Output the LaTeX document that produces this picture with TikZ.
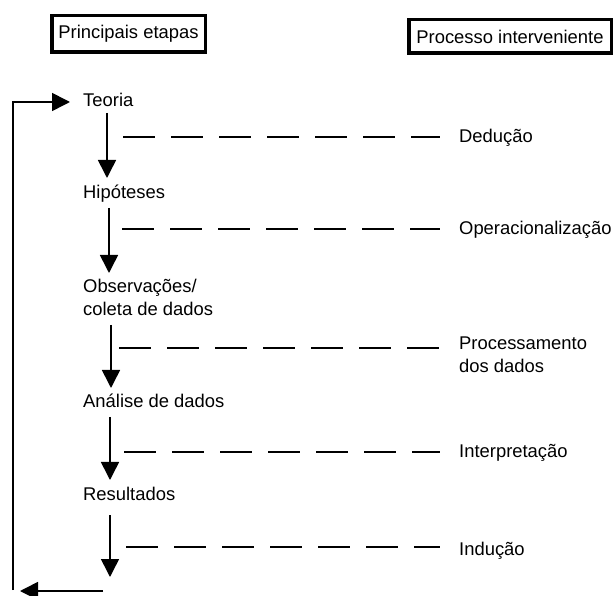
\documentclass[tikz,border=0pt]{standalone}
\usepackage{fontspec}
\setmainfont{Liberation Sans}
\usetikzlibrary{arrows.meta,calc}

\begin{document}
\begin{tikzpicture}[x=1pt,y=-1pt,
  txt/.style={font=\fontsize{18.4}{23}\selectfont},
  lbl/.style={txt, anchor=base west, inner sep=0pt, align=left},
  hdr/.style={txt, draw, line width=3.5pt, inner sep=0pt},
  shaft/.style={line width=1.6pt, -{Triangle[length=18pt,width=18pt]}},
  dashline/.style={line width=1.6pt, dash pattern=on 32pt off 16pt},
]
\useasboundingbox (0,0) rectangle (614,596);

% column headers
\node[hdr, minimum width=153.5pt, minimum height=36.5pt] (hleft) at (128.5,34) {Principais etapas};
\node[hdr, minimum width=202.5pt, minimum height=33.5pt] (hright) at (510,36.5) {Processo interveniente};

% main stages (two-line nodes sit on the baseline of their last line)
\node[lbl] (teoria) at (83,106.5) {Teoria};
\node[lbl] (hip) at (83,198.5) {Hipóteses};
\node[lbl] (obs) at (83,315.5) {Observações/\\coleta de dados};
\node[lbl] (ana) at (83,407.5) {Análise de dados};
\node[lbl] (res) at (83,500.5) {Resultados};

% intervening processes
\node[lbl] (ded) at (459,142.5) {Dedução};
\node[lbl] (oper) at (459,234.5) {Operacionalização};
\node[lbl] (proc) at (459,373) {Processamento\\dos dados};
\node[lbl] (interp) at (459,457.5) {Interpretação};
\node[lbl] (ind) at (459,555.5) {Indução};

% arrows between stages
\draw[shaft] ($(teoria.base west)+(24,6.5)$) -- ($(hip.base west)+(24,-20.5)$);
\draw[shaft] ($(hip.base west)+(26,9.5)$) -- ($(obs.base west)+(26,-42.5)$);
\draw[shaft] ($(obs.base west)+(28,9.5)$) -- ($(ana.base west)+(28,-19.5)$);
\draw[shaft] ($(ana.base west)+(27,9.5)$) -- ($(res.base west)+(27,-20.5)$);
\coordinate (resend) at (110,577);
\draw[shaft] ($(res.base west)+(27,14.5)$) -- (resend);

% feedback loop
\coordinate (botstart) at (103,591);
\coordinate (botend) at (20,591);
\coordinate (loopbot) at (13,590);
\coordinate (looptop) at (13,102);
\draw[shaft] (botstart) -- (botend);
\draw[shaft] (loopbot) -- (looptop) -- ($(teoria.base west)+(-13,-4.5)$);

% dashed links to the intervening processes
\coordinate (d1) at (123,137);
\coordinate (d2) at (122,229);
\coordinate (d3) at (119,348);
\coordinate (d4) at (124,452);
\coordinate (d5) at (126,547);
\draw[dashline] (d1) -- ($(ded.base west)+(-19,-5.5)$);
\draw[dashline] (d2) -- ($(oper.base west)+(-19,-5.5)$);
\draw[dashline] (d3) -- ($(proc.base west)+(-19,-25)$);
\draw[dashline] (d4) -- ($(interp.base west)+(-19,-5.5)$);
\draw[dashline] (d5) -- ($(ind.base west)+(-19,-8.5)$);
\end{tikzpicture}
\end{document}
